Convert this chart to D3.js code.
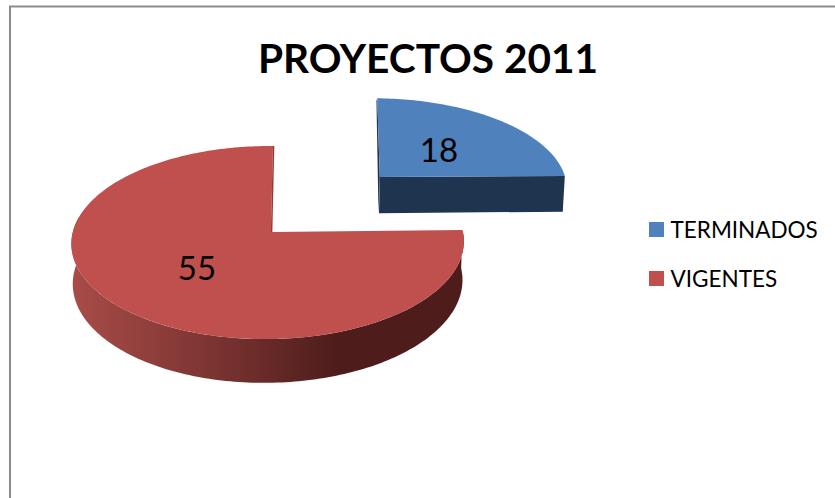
<!DOCTYPE html>
<html>
<head>
<meta charset="utf-8">
<script src="https://cdnjs.cloudflare.com/ajax/libs/d3/7.8.5/d3.min.js"></script>
<style>
  html, body { margin: 0; padding: 0; background: #fff; }
  svg { display: block; }
  text { font-family: Lato, "Open Sans", sans-serif; fill: #000; }
</style>
</head>
<body>
<svg id="chart" width="835" height="498"></svg>
<script>
const categories = ["TERMINADOS", "VIGENTES"];
const values = [18, 55];
const topColors = ["#4f81bd", "#c0504d"];
const sideColors = ["#1f344f", "#4e1d1b"];
const chartTitle = "PROYECTOS 2011";

const width = 835;
const height = 498;

// perspective pie: unit circle in the ground plane, projected to the screen
const cx = 271;
const cy = 232;
const rx = 195;
const ry = 95.4;
const perspV = 0.109;
const perspU = 0.016;
const depth = 39;
const bottomScale = 0.993;
const explode = [
  { u: 0.572, v: 0.62, k: 1.05, lean: 9 },
  { u: 0, v: 0, k: 1, lean: 2.2 },
];

const svg = d3.select("#chart");

function project(u, v, lower, lean) {
  const w = 1 + perspV * v + perspU * u;
  const s = lower ? bottomScale : 1;
  return [
    cx + (s * (rx * u + lean * v)) / w,
    cy - (ry * v) / w + (lower ? depth / w : 0),
  ];
}

function rimPoint(angle, off, lower) {
  return project(off.u + off.k * Math.sin(angle), off.v + off.k * Math.cos(angle), lower, off.lean);
}

function sampleAngles(a0, a1) {
  const n = Math.max(2, Math.ceil(Math.abs(a1 - a0) / 0.02));
  return d3.range(n + 1).map((i) => a0 + ((a1 - a0) * i) / n);
}

const line = d3.line();
const closed = (pts) => line(pts) + "Z";

const slices = d3.pie().sort(null)(values);

const defs = svg.append("defs");
const sideGradient = defs
  .append("linearGradient")
  .attr("id", "red-side")
  .attr("gradientUnits", "userSpaceOnUse")
  .attr("x1", 71)
  .attr("x2", 336)
  .attr("y1", 0)
  .attr("y2", 0);
sideGradient.append("stop").attr("offset", 0).attr("stop-color", "#a84c48");
sideGradient.append("stop").attr("offset", 0.45).attr("stop-color", "#833836");
sideGradient.append("stop").attr("offset", 1).attr("stop-color", sideColors[1]);

// frame, only top and left are inside the picture
svg
  .append("path")
  .attr("d", `M10,${height}V6.5H${width}`)
  .attr("fill", "none")
  .attr("stroke", "#8c8c8c")
  .attr("stroke-width", 2);

svg
  .append("text")
  .attr("x", 428)
  .attr("y", 73)
  .attr("text-anchor", "middle")
  .attr("font-size", 40.6)
  .attr("font-weight", 700)
  .text(chartTitle);

// red slice
{
  const s = slices[1];
  const off = explode[1];
  const sideAngles = sampleAngles(s.startAngle, Math.PI * 1.55);
  const upper = sideAngles.map((a) => rimPoint(a, off, false));
  const lower = sideAngles.map((a) => rimPoint(a, off, true));
  svg
    .append("path")
    .attr("d", closed(upper.concat(lower.reverse())))
    .attr("fill", "url(#red-side)");

  const edge = [project(off.u, off.v, false, off.lean), rimPoint(s.endAngle, off, false)];
  svg
    .append("path")
    .attr("d", line(edge))
    .attr("stroke", "#8f3c39")
    .attr("stroke-width", 1.5)
    .attr("transform", "translate(0.6,0)");

  const top = [project(off.u, off.v, false, off.lean)].concat(
    sampleAngles(s.startAngle, s.endAngle).map((a) => rimPoint(a, off, false)),
  );
  svg.append("path").attr("d", closed(top)).attr("fill", topColors[1]);
}

// blue slice
{
  const s = slices[0];
  const off = explode[0];
  const apex = project(off.u, off.v, false, off.lean);
  const apexLow = project(off.u, off.v, true, off.lean);
  const backTop = rimPoint(s.startAngle, off, false);

  // thin sliver of the cut face along the left edge
  svg
    .append("path")
    .attr("d", closed([backTop, [backTop[0] - 0.8, backTop[1] + 3], [apexLow[0] - 0.5, apexLow[1]], apex]))
    .attr("fill", sideColors[0]);

  svg
    .append("path")
    .attr(
      "d",
      closed([apex, rimPoint(s.endAngle, off, false), rimPoint(s.endAngle, off, true), apexLow]),
    )
    .attr("fill", sideColors[0]);

  const top = [apex].concat(
    sampleAngles(s.startAngle, s.endAngle).map((a) => rimPoint(a, off, false)),
  );
  svg.append("path").attr("d", closed(top)).attr("fill", topColors[0]);
}

// value labels
const labelPos = [[439, 162], [197, 280]];
svg
  .selectAll(".value-label")
  .data(values)
  .join("text")
  .attr("class", "value-label")
  .attr("x", (d, i) => labelPos[i][0])
  .attr("y", (d, i) => labelPos[i][1])
  .attr("text-anchor", "middle")
  .attr("font-size", 33)
  .text((d) => d);

// legend
const legendY = d3.scalePoint().domain(categories).range([229.5, 278.5]);
const legend = svg
  .selectAll(".legend-item")
  .data(categories)
  .join("g")
  .attr("class", "legend-item")
  .attr("transform", (d) => `translate(649,${legendY(d)})`);

legend
  .append("rect")
  .attr("y", -7.5)
  .attr("width", 15)
  .attr("height", 15)
  .attr("fill", (d, i) => topColors[i]);

legend
  .append("text")
  .attr("x", 21.5)
  .attr("y", 8)
  .attr("font-size", 22.5)
  .text((d) => d);
</script>
</body>
</html>
